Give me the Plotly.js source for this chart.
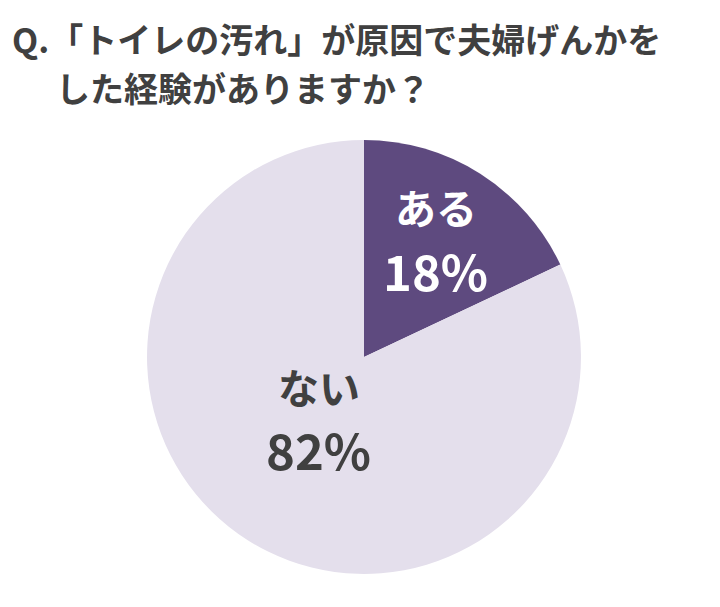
<!DOCTYPE html>
<html>
<head>
<meta charset="utf-8">
<script src="https://cdn.plot.ly/plotly-3.0.1.min.js"></script>
<style>html,body{margin:0;padding:0;background:#fff;}#chart{width:720px;height:607px;}</style>
</head>
<body>
<div id="chart"></div>
<script>
const titleLines = ["Q.「トイレの汚れ」が原因で夫婦げんかを", "した経験がありますか？"];
const labels = ["ある", "ない"];
const values = [18, 82];
const sliceColors = ["#5e4a7f", "#e4dfec"];
const labelColors = ["#ffffff", "#404040"];

const FONT = "'Noto Sans CJK JP', 'Noto Sans', sans-serif";
const W = 720, H = 607;

const trace = {
  type: "pie",
  labels: labels,
  values: values,
  marker: { colors: sliceColors, line: { width: 0 } },
  sort: false,
  direction: "clockwise",
  rotation: 0,
  textinfo: "none",
  hoverinfo: "none",
  showlegend: false,
  domain: { x: [0.2042, 0.8069], y: [0.0544, 0.7694] }
};

const px = (x, y) => ({ x: x / W, y: 1 - y / H });

const titlePos = [[10, 38], [54, 87]];
const annotations = titleLines.map((t, i) => Object.assign({
  text: "<b>" + t + "</b>", xref: "paper", yref: "paper",
  xanchor: "left", yanchor: "middle",
  showarrow: false, align: "left",
  font: { family: FONT, size: 34, color: "#404040" }
}, px(titlePos[i][0], titlePos[i][1])));

// label positions: [name line, percent line]
const labelPos = [[[436, 206], [435, 270]], [[319, 386], [318, 448]]];
const labelSizes = [41, 49];
labels.forEach((lab, i) => {
  const lines = [lab, values[i] + "%"];
  lines.forEach((txt, j) => {
    annotations.push(Object.assign({
      text: "<b>" + txt + "</b>",
      xref: "paper", yref: "paper",
      xanchor: "center", yanchor: "middle",
      showarrow: false, align: "center",
      font: { family: FONT, size: labelSizes[j], color: labelColors[i] }
    }, px(labelPos[i][j][0], labelPos[i][j][1])));
  });
});

const layout = {
  width: W, height: H,
  margin: { l: 0, r: 0, t: 0, b: 0 },
  paper_bgcolor: "#ffffff",
  annotations: annotations
};

Plotly.newPlot("chart", [trace], layout, { displayModeBar: false, staticPlot: true });
</script>
</body>
</html>
